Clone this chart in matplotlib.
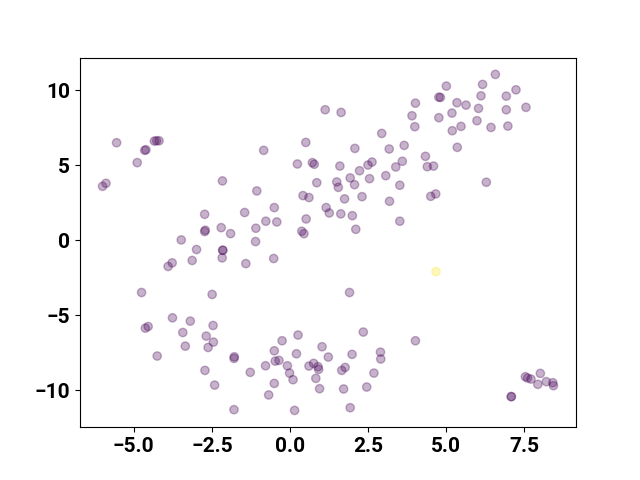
import matplotlib
matplotlib.use("Agg")
import matplotlib.pyplot as plt
import numpy as np

xs = [-5.55, -4.65, -4.61, -4.34, -4.27, -4.19, -4.89, -6.00, -5.89, -2.16,
      -2.73, -1.45, -2.71, -2.73, -2.20, -1.90, -3.48,
      1.13, 1.64, -0.84, 0.51, 2.08, 2.94, 3.18, 3.66, 0.24, 0.72, 0.78, 1.60,
      2.23, 2.50, 2.63, 3.39, 3.60, 1.93, 2.55, 3.07, 0.86, 1.50, 1.55, 2.07,
      3.52, -1.06, 0.42, 0.61, 1.75, 2.31, 3.19, 1.16, 1.26, 1.63, 2.00, 2.11,
      3.52, -0.50, -0.77, -0.42, -1.09, 0.52, 0.38, 0.45, -1.10,
      4.02, 3.91, 4.00, 5.01, 4.77, 4.82, 5.35, 5.64, 5.19, 4.77, 5.20, 5.48,
      5.36, 6.17, 6.58, 6.12, 6.04, 5.99, 6.44, 6.93, 7.24, 6.93, 6.98, 7.56,
      4.34, 4.40, 4.60, 6.29, 4.51, 4.67,
      -2.99, -2.15, -2.15, -2.17, -1.41, -3.90, -3.77, -3.13, -4.75, -2.49,
      -3.76, -3.19, -4.63, -4.54, -3.43, -2.46, -2.68, -2.45, -2.62, -3.35,
      -4.25, -1.78, -1.79, -2.72, -2.41, -1.79, -1.27,
      -0.52, 1.91, 2.35, 4.02, 0.26, -0.25, 1.03, 2.90, 2.91, -0.50, 0.21,
      1.23, 1.99, -0.47, -0.35, -0.78, -0.08, -0.01, 0.10, 0.61, 0.76, 0.90,
      0.92, 0.83, 1.66, 1.77, 2.69, -0.50, 0.95, 1.72, 2.46, -0.68, 0.15, 1.93,
      7.54, 7.61, 7.72, 8.02, 7.94, 8.21, 8.42, 8.44, 7.09, 7.09,
      4.68]
ys = [6.51, 6.00, 6.04, 6.62, 6.64, 6.64, 5.18, 3.60, 3.80, 3.96,
      1.73, 1.85, 0.67, 0.58, 0.84, 0.44, 0.02,
      8.71, 8.53, 6.00, 6.53, 6.13, 7.13, 6.09, 6.33, 5.09, 5.18, 5.07, 4.95,
      4.64, 5.02, 5.22, 4.89, 5.27, 4.16, 4.11, 4.31, 3.84, 3.89, 3.53, 3.71,
      3.67, 3.29, 2.98, 2.85, 2.76, 2.91, 2.60, 2.18, 1.82, 1.76, 1.64, 0.73,
      1.27, 2.18, 1.27, 1.22, 0.80, 1.42, 0.60, 0.44, -0.09,
      9.15, 8.31, 7.58, 10.29, 9.55, 9.53, 9.18, 9.02, 8.49, 8.18, 7.31, 7.60,
      6.20, 10.40, 11.07, 9.64, 8.80, 7.98, 7.53, 9.62, 10.04, 8.71, 7.62, 8.87,
      5.60, 4.91, 4.95, 3.87, 2.93, 3.09,
      -0.62, -0.67, -0.67, -1.18, -1.56, -1.75, -1.51, -1.35, -3.49, -3.62,
      -5.18, -5.40, -5.87, -5.76, -6.16, -5.69, -6.40, -6.80, -7.16, -7.07,
      -7.73, -7.78, -7.89, -8.69, -9.67, -11.31, -8.82,
      -1.22, -3.49, -6.13, -6.71, -6.33, -6.71, -7.11, -7.47, -7.93, -7.38, -7.58,
      -7.80, -7.62, -8.07, -8.02, -8.38, -8.38, -8.87, -9.31, -8.40, -8.22, -8.44,
      -8.62, -9.22, -8.69, -8.49, -8.87, -9.56, -9.91, -9.93, -9.80, -10.33, -11.36, -11.18,
      -9.11, -9.20, -9.27, -8.89, -9.62, -9.44, -9.51, -9.71, -10.44, -10.44,
      -2.09]
labels = [0] * (len(xs) - 1) + [1]

plt.rcParams['font.family'] = ['Roboto', 'DejaVu Sans']
plt.rcParams['font.weight'] = 'bold'
plt.rcParams['xtick.labelsize'] = 15
plt.rcParams['ytick.labelsize'] = 15
fig, ax = plt.subplots(figsize=(6.4, 4.8), dpi=100)
ax.scatter(xs, ys, c=labels, cmap='viridis', alpha=0.3)
fig.savefig('out.png')
